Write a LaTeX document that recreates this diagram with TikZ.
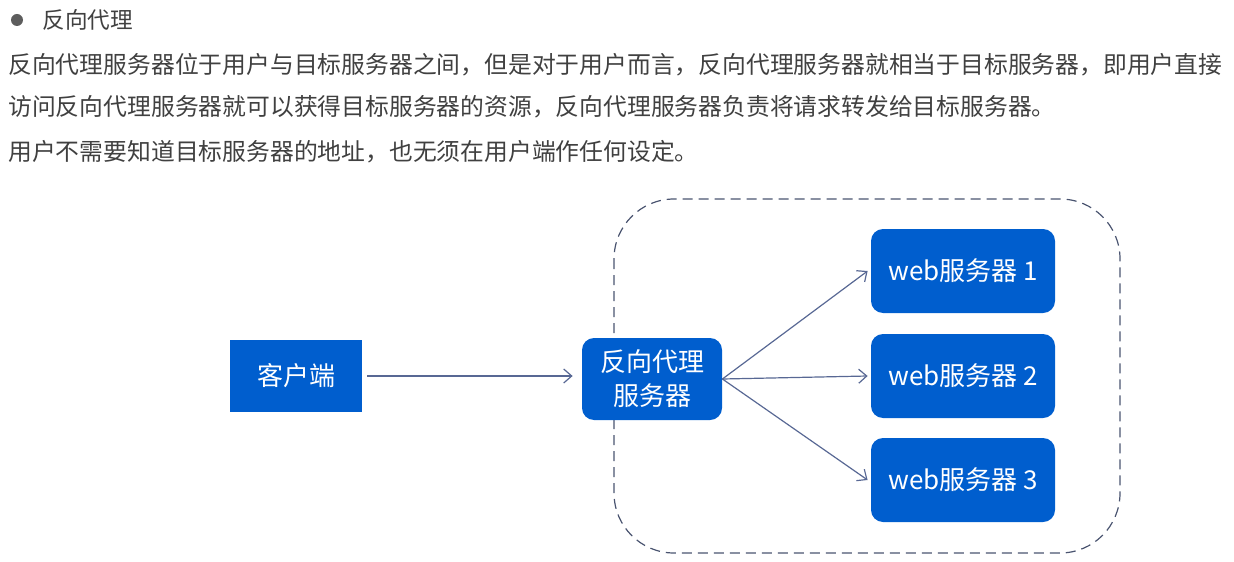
\documentclass[tikz,border=0pt]{standalone}
\usepackage{fontspec}
\setmainfont{Noto Sans CJK SC}
\usepackage{tikz}
\usetikzlibrary{arrows.meta, positioning}
\definecolor{boxblue}{RGB}{0,94,206}
\definecolor{linegray}{RGB}{88,104,148}
\definecolor{framegray}{RGB}{74,84,112}
\definecolor{textgray}{RGB}{64,64,64}
\tikzstyle{box} = [fill=boxblue, text=white, font=\fontsize{13}{17}\selectfont, align=center, inner sep=0pt]
\tikzstyle{rbox} = [box, rounded corners=6pt]
\tikzstyle{arrow} = [color=linegray, line width=0.6pt, -{Straight Barb[length=4pt,width=7pt]}]
\tikzstyle{para} = [anchor=west, text=textgray, font=\fontsize{11.9}{14}\selectfont, inner sep=0pt]

\begin{document}
\begin{tikzpicture}[x=0.5pt, y=-0.5pt]
        \useasboundingbox (0,0) rectangle (1234,561);
        % heading and text
        \fill[textgray!85] (17,20) circle (3pt);
        \node[para, font=\fontsize{11.3}{14}\selectfont] (title) at (42,20) {反向代理};
        \node[para] (line1) at (8,65) {反向代理服务器位于用户与目标服务器之间，但是对于用户而言，反向代理服务器就相当于目标服务器，即用户直接};
        \node[para] (line2) at (8,107) {访问反向代理服务器就可以获得目标服务器的资源，反向代理服务器负责将请求转发给目标服务器。};
        \node[para] (line3) at (8,152) {用户不需要知道目标服务器的地址，也无须在用户端作任何设定。};
        % server group
        \draw[framegray, line width=0.6pt, dash pattern=on 5pt off 3pt, rounded corners=30pt] (614,199) rectangle (1120,553);
        \node[box, minimum width=66pt, minimum height=36pt] (client) at (296,376) {客户端};
        \node[rbox, minimum width=70pt, minimum height=41pt] (proxy) at (652,379) {反向代理\\服务器};
        \node[rbox, minimum width=92pt, minimum height=42pt] (web1) at (963,271) {web服务器 1};
        \node[rbox, minimum width=92pt, minimum height=42pt] (web2) at (963,376) {web服务器 2};
        \node[rbox, minimum width=92pt, minimum height=42pt] (web3) at (963,480) {web服务器 3};
        \draw[arrow] ([xshift=2.5pt]client.east) -- ([xshift=-4.5pt]proxy.west |- client.east);
        \draw[arrow] (proxy.east) -- ([xshift=-1.5pt]web1.west);
        \draw[arrow] (proxy.east) -- ([xshift=-1.5pt]web2.west);
        \draw[arrow] (proxy.east) -- ([xshift=-1.5pt]web3.west);
      \end{tikzpicture}
\end{document}
